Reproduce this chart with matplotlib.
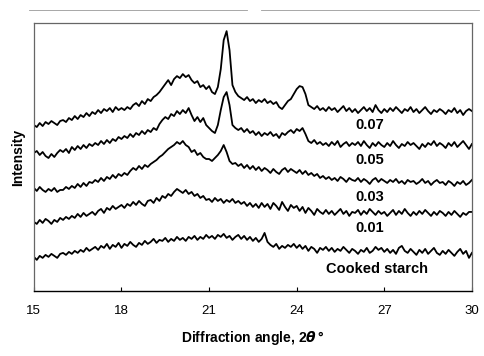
import numpy as np
import matplotlib.pyplot as plt
from matplotlib.lines import Line2D

plt.switch_backend('agg')
plt.rcParams['font.family'] = ['Liberation Sans', 'DejaVu Sans']

# 2-theta grid, 15 to 30 deg in 0.1 deg steps
two_theta = np.round(np.arange(150, 301) / 10.0, 1)

# intensity (arbitrary units, traces already offset as in the figure)
cooked = [
    34, 31, 35, 33, 36, 34, 37, 35, 33, 37,
    38, 36, 39, 37, 40, 38, 41, 39, 43, 40,
    42, 44, 41, 45, 43, 47, 42, 46, 44, 48,
    43, 47, 45, 49, 46, 44, 48, 46, 50, 47,
    49, 52, 48, 51, 50, 53, 49, 52, 50, 54,
    51, 53, 50, 54, 52, 55, 51, 54, 52, 56,
    53, 55, 52, 56, 54, 57, 53, 55, 51, 54,
    56, 52, 55, 51, 54, 50, 53, 49, 52, 58,
    49, 46, 44, 47, 42, 45, 43, 46, 44, 47,
    43, 46, 42, 45, 40, 44, 42, 38, 43, 41,
    44, 40, 43, 39, 42, 40, 44, 41, 38, 42,
    40, 37, 41, 39, 43, 38, 40, 44, 41, 43,
    39, 42, 38, 41, 37, 43, 45, 40, 38, 42,
    39, 36, 41, 38, 42, 37, 40, 43, 38, 36,
    40, 37, 41, 38, 35, 39, 42, 37, 40, 33,
    38,
]
s001 = [
    69, 67, 71, 68, 72, 70, 67, 71, 69, 73,
    71, 74, 72, 75, 73, 77, 74, 78, 75, 77,
    79, 76, 80, 82, 78, 83, 81, 85, 82, 84,
    86, 83, 87, 85, 89, 86, 90, 87, 85, 90,
    91, 88, 93, 90, 95, 93, 97, 95, 99, 102,
    100, 98, 101, 97, 99, 95, 97, 93, 95, 91,
    92, 89, 93, 90, 92, 88, 91, 89, 92, 88,
    90, 87, 89, 85, 88, 84, 87, 83, 88, 84,
    87, 82, 88, 85, 81, 89, 84, 80, 86, 83,
    85, 80, 84, 78, 83, 80, 76, 82, 79, 77,
    81, 77, 80, 76, 79, 82, 77, 80, 75, 79,
    78, 81, 76, 80, 77, 82, 79, 76, 80, 77,
    79, 75, 78, 81, 76, 80, 77, 82, 78, 75,
    79, 76, 80, 77, 81, 78, 75, 79, 76, 80,
    78, 75, 79, 76, 80, 77, 74, 78, 76, 79,
    79,
]
s003 = [
    103, 100, 104, 101, 99, 102, 100, 103, 99, 101,
    101, 104, 102, 105, 103, 107, 104, 108, 105, 109,
    108, 111, 109, 113, 110, 114, 112, 116, 113, 117,
    115, 118, 116, 120, 123, 121, 125, 122, 126, 124,
    127, 129, 131, 134, 136, 139, 142, 144, 146, 149,
    147, 150, 146, 144, 139, 141, 136, 138, 134, 132,
    132, 130, 133, 136, 140, 146, 139, 130, 127, 128,
    125, 127, 123, 126, 122, 125, 121, 124, 120, 123,
    121, 118, 122, 119, 117, 121, 123, 119, 122, 120,
    118, 121, 117, 120, 116, 118, 115, 117, 113, 115,
    112, 114, 111, 113, 110, 114, 112, 109, 113, 111,
    110, 113, 109, 112, 110, 107, 111, 113, 109, 112,
    110, 108, 111, 109, 112, 108, 110, 107, 111, 109,
    110, 107, 109, 112, 108, 110, 106, 109, 111, 108,
    109, 106, 110, 108, 105, 109, 107, 110, 106, 108,
    111,
]
s005 = [
    138, 140, 136, 139, 135, 133, 137, 134, 138, 141,
    139, 142, 138, 144, 141, 145, 142, 146, 143, 147,
    145, 148, 146, 150, 147, 151, 148, 152, 150, 154,
    152, 155, 153, 157, 154, 158, 156, 160, 157, 161,
    159, 163, 161, 167, 171, 174, 172, 177, 175, 180,
    177, 181, 178, 183, 176, 170, 174, 169, 173, 166,
    163, 160, 158, 166, 181, 194, 199, 186, 166, 163,
    161, 163, 159, 162, 158, 160, 156, 159, 155, 158,
    156, 159, 155, 157, 153, 158, 156, 159, 161, 158,
    162, 160, 163, 157, 150, 148, 151, 147, 149, 146,
    148, 145, 149, 146, 150, 144, 147, 149, 145, 148,
    146, 149, 145, 150, 146, 143, 148, 145, 149, 146,
    144, 148, 145, 150, 146, 143, 147, 145, 149, 146,
    148, 145, 142, 147, 144, 148, 146, 150, 145, 148,
    146, 143, 148, 145, 149, 144, 147, 150, 146, 142,
    147,
]
s007 = [
    166, 164, 168, 165, 169, 167, 170, 168, 166, 170,
    171, 169, 173, 171, 175, 172, 176, 174, 178, 175,
    179, 177, 181, 178, 182, 180, 183, 179, 184, 181,
    183, 181, 184, 182, 186, 188, 185, 190, 187, 192,
    190, 194, 196, 199, 203, 207, 211, 206, 212, 215,
    213, 217, 214, 216, 211, 208, 210, 204, 206, 202,
    205, 199, 197, 204, 222, 251, 260, 241, 206, 199,
    195, 193, 191, 194, 190, 192, 188, 191, 189, 192,
    188, 190, 187, 189, 184, 182, 186, 190, 192, 197,
    202, 205, 204, 197, 186, 184, 182, 185, 181, 183,
    180, 184, 181, 183, 179, 182, 185, 180, 183, 179,
    182, 178, 181, 184, 180, 183, 179, 186, 181, 178,
    182, 179, 183, 180, 184, 181, 178, 182, 180, 184,
    179, 182, 178, 181, 184, 180, 177, 181, 179, 182,
    180, 177, 181, 179, 183, 178, 181, 176, 180, 182,
    180,
]

series = [cooked, s001, s003, s005, s007]
labels = ['Cooked starch', '0.01', '0.03', '0.05', '0.07']
label_y = [22, 63, 94, 131, 166]
x_ticks = [15, 18, 21, 24, 27, 30]

fig = plt.figure(figsize=(4.84, 3.56), dpi=100)
ax = fig.add_axes([0.070, 0.183, 0.905, 0.752])

for y in series:
    ax.plot(two_theta, y, color='black', lw=1.3)

for lab, ly in zip(labels, label_y):
    x = 26.75 if lab == 'Cooked starch' else 26.5
    ax.text(x, ly, lab, ha='center', va='center', fontsize=10.5,
            fontweight='bold')

ax.set_xlim(15, 30)
ax.set_ylim(0, 268)
ax.set_xticks(x_ticks)
ax.set_yticks([])
ax.tick_params(axis='x', direction='in', length=3, pad=10, labelsize=9.5)
ax.set_xlabel(r'Diffraction angle, 2$\mathbfit{\theta}\,$°', fontsize=10,
              fontweight='bold', labelpad=9)
ax.set_ylabel('Intensity', fontsize=10, fontweight='bold', labelpad=6)

for side in ['top', 'left', 'right']:
    ax.spines[side].set_color('#666666')
    ax.spines[side].set_linewidth(0.9)
ax.spines['bottom'].set_linewidth(1.0)

# faint scan line above the plot
fig.add_artist(Line2D([0.06, 0.51], [0.972, 0.972], color='#999999', lw=0.6))
fig.add_artist(Line2D([0.54, 0.99], [0.972, 0.972], color='#999999', lw=0.6))

fig.savefig('out.png', dpi=100)
